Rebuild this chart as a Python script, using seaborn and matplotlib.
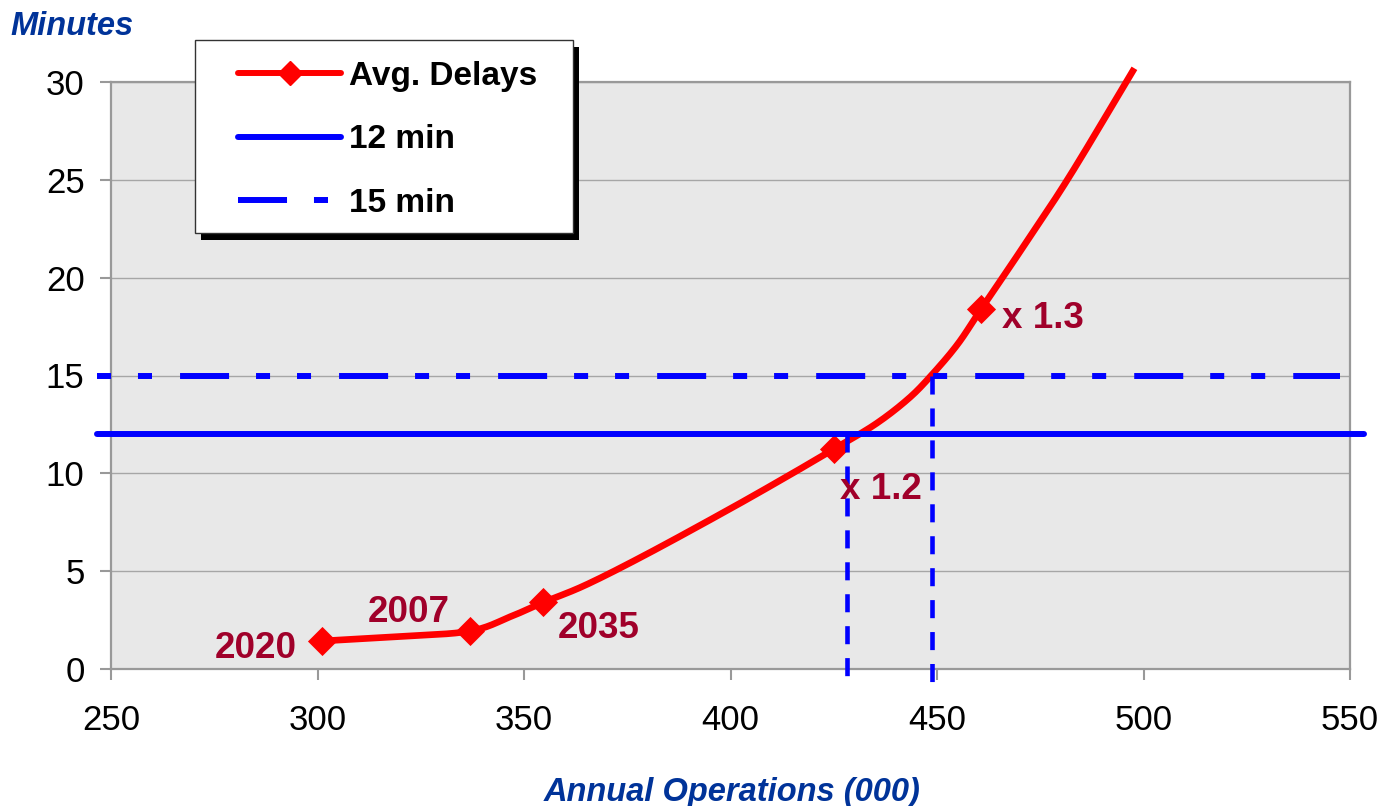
import numpy as np
import matplotlib
matplotlib.use("Agg")
import matplotlib.pyplot as plt
import seaborn as sns
from matplotlib.lines import Line2D
from matplotlib.patches import Rectangle

# ---- data -------------------------------------------------------------
# delay curve (annual operations in thousands, minutes of delay)
curve_ops = [301, 320, 337, 347, 354.6, 365, 380, 400, 415, 425, 435,
             443, 448.6, 455, 460.7, 470, 482, 497.8]
curve_delay = [1.43, 1.66, 1.94, 2.7, 3.4, 4.3, 5.9, 8.2, 10.0, 11.24,
               12.5, 13.8, 15.0, 16.6, 18.4, 21.3, 25.15, 30.7]

# highlighted scenarios
marker_ops = [301, 337, 354.6, 425, 460.7]
marker_delay = [1.43, 1.94, 3.4, 11.24, 18.4]
marker_labels = ["2020", "2007", "2035", "x 1.2", "x 1.3"]

# delay thresholds and where the curve reaches them
threshold_12 = 12
threshold_15 = 15
solid_span = [246.6, 553.4]
dashed_span = [246.5, 547.5]
crossing_ops = [428.3, 448.9]
crossing_levels = [12, 15]
crossing_floor = -0.65

x_ticks = [250, 300, 350, 400, 450, 500, 550]
y_ticks = [0, 5, 10, 15, 20, 25, 30]
legend_labels = ["Avg. Delays", "12 min", "15 min"]


def smooth_line(xs, ys, steps=24):
    """Catmull-Rom smoothing, like a spreadsheet 'smoothed line'."""
    p = np.column_stack([xs, ys]).astype(float)
    p = np.vstack([2 * p[0] - p[1], p, 2 * p[-1] - p[-2]])
    t = np.linspace(0, 1, steps, endpoint=False)[:, None]
    out = []
    for i in range(1, len(p) - 2):
        p0, p1, p2, p3 = p[i - 1], p[i], p[i + 1], p[i + 2]
        seg = 0.5 * ((2 * p1) + (-p0 + p2) * t
                     + (2 * p0 - 5 * p1 + 4 * p2 - p3) * t ** 2
                     + (-p0 + 3 * p1 - 3 * p2 + p3) * t ** 3)
        out.append(seg)
    out.append(p[-2][None, :])
    out = np.vstack(out)
    return out[:, 0], out[:, 1]


# ---- style ------------------------------------------------------------
sns.set_style("white")
plt.rcParams["font.family"] = ["Liberation Sans", "DejaVu Sans"]
plt.rcParams["text.color"] = "black"
plt.rcParams["lines.scale_dashes"] = False

RED = "#FF0000"
BLUE = "#0000FF"
LABEL_RED = "#A0002A"
TITLE_BLUE = "#003399"
FRAME_GREY = "#999999"

W, H = 1383, 806
fig = plt.figure(figsize=(W / 100, H / 100), dpi=100)
ax = fig.add_axes([111 / W, 1 - 669 / H, (1350 - 111) / W, (669 - 82) / H])
ax.set_facecolor("#E8E8E8")

# ---- series -----------------------------------------------------------
sx, sy = smooth_line(curve_ops, curve_delay)
sns.lineplot(x=sx, y=sy, sort=False, estimator=None, color=RED, lw=4.8,
             ax=ax, clip_on=False, zorder=3, solid_joinstyle="round",
             solid_capstyle="butt")
sns.scatterplot(x=marker_ops, y=marker_delay, marker="D", s=220, color=RED,
                linewidth=0, ax=ax, zorder=4, clip_on=False)

ax.plot(solid_span, [threshold_12, threshold_12], color=BLUE, lw=4.3,
        clip_on=False, zorder=5)
ax.plot(dashed_span, [threshold_15, threshold_15], color=BLUE, lw=4.3,
        dashes=(10.1, 19.4, 10.1, 20.2, 35.3, 19.4), clip_on=False, zorder=5)
for xo, lev in zip(crossing_ops, crossing_levels):
    ax.plot([xo, xo], [lev, crossing_floor], color=BLUE, lw=3.3,
            dashes=(13, 10), clip_on=False, zorder=5)

# ---- point labels -----------------------------------------------------
label_pos = [(295.0, 0.56, "right"), (322.1, 2.40, "center"),
             (368.1, 1.58, "center"), (426.4, 8.69, "left"),
             (465.8, 17.42, "left")]
for (lx, ly, ha), txt in zip(label_pos, marker_labels):
    ax.text(lx, ly, txt, ha=ha, va="baseline", fontsize=26.5,
            fontweight="bold", color=LABEL_RED, zorder=6)

# ---- axes -------------------------------------------------------------
ax.set_xlim(250, 550)
ax.set_ylim(0, 30)
ax.set_xticks(x_ticks)
ax.set_yticks(y_ticks)
ax.yaxis.grid(True, color="#A6A6A6", lw=1.0)
ax.xaxis.grid(False)
ax.set_axisbelow(True)
for sp in ax.spines.values():
    sp.set_visible(True)
    sp.set_color(FRAME_GREY)
    sp.set_linewidth(1.6)
ax.tick_params(axis="both", colors=FRAME_GREY, length=8, width=1.5,
               labelsize=25, labelcolor="black")
ax.tick_params(axis="y", pad=11, left=True)
ax.tick_params(axis="x", pad=17, bottom=True)
ax.set_xlabel("")
ax.set_ylabel("")

fig.text(732 / W, 1 - 801 / H, "Annual Operations (000)", ha="center",
         va="baseline", fontsize=23.5, fontweight="bold", fontstyle="italic",
         color=TITLE_BLUE)
fig.text(10.7 / W, 1 - 35 / H, "Minutes", ha="left", va="baseline",
         fontsize=23.5, fontweight="bold", fontstyle="italic",
         color=TITLE_BLUE)

# ---- legend with drop shadow -----------------------------------------
box_x0, box_y0, box_x1, box_y1 = 195, 40, 573, 233
fig.add_artist(Rectangle(((box_x0 + 6) / W, 1 - (box_y1 + 7) / H),
                         (box_x1 - box_x0) / W, (box_y1 - box_y0) / H,
                         transform=fig.transFigure, facecolor="black",
                         edgecolor="none", zorder=9))
fig.add_artist(Rectangle((box_x0 / W, 1 - box_y1 / H),
                         (box_x1 - box_x0) / W, (box_y1 - box_y0) / H,
                         transform=fig.transFigure, facecolor="white",
                         edgecolor="#333333", lw=1.0, zorder=10))

handles = [
    Line2D([], [], color=RED, lw=4.3, marker="D", markersize=12,
           solid_capstyle="round"),
    Line2D([], [], color=BLUE, lw=4.3, solid_capstyle="round"),
    Line2D([], [], color=BLUE, lw=4.3,
           dashes=(35.3, 19.4, 10.1, 20.2, 10.1, 19.4)),
]
leg = fig.legend(handles, legend_labels, loc="upper left",
                 bbox_to_anchor=(238 / W, 1 - 61 / H), frameon=False,
                 prop=dict(weight="bold", size=24), handlelength=3.1,
                 handletextpad=0.22, labelspacing=0.97, borderpad=0,
                 borderaxespad=0, numpoints=1, labelcolor="black")
leg.set_zorder(11)

fig.savefig("out.png", dpi=100)
